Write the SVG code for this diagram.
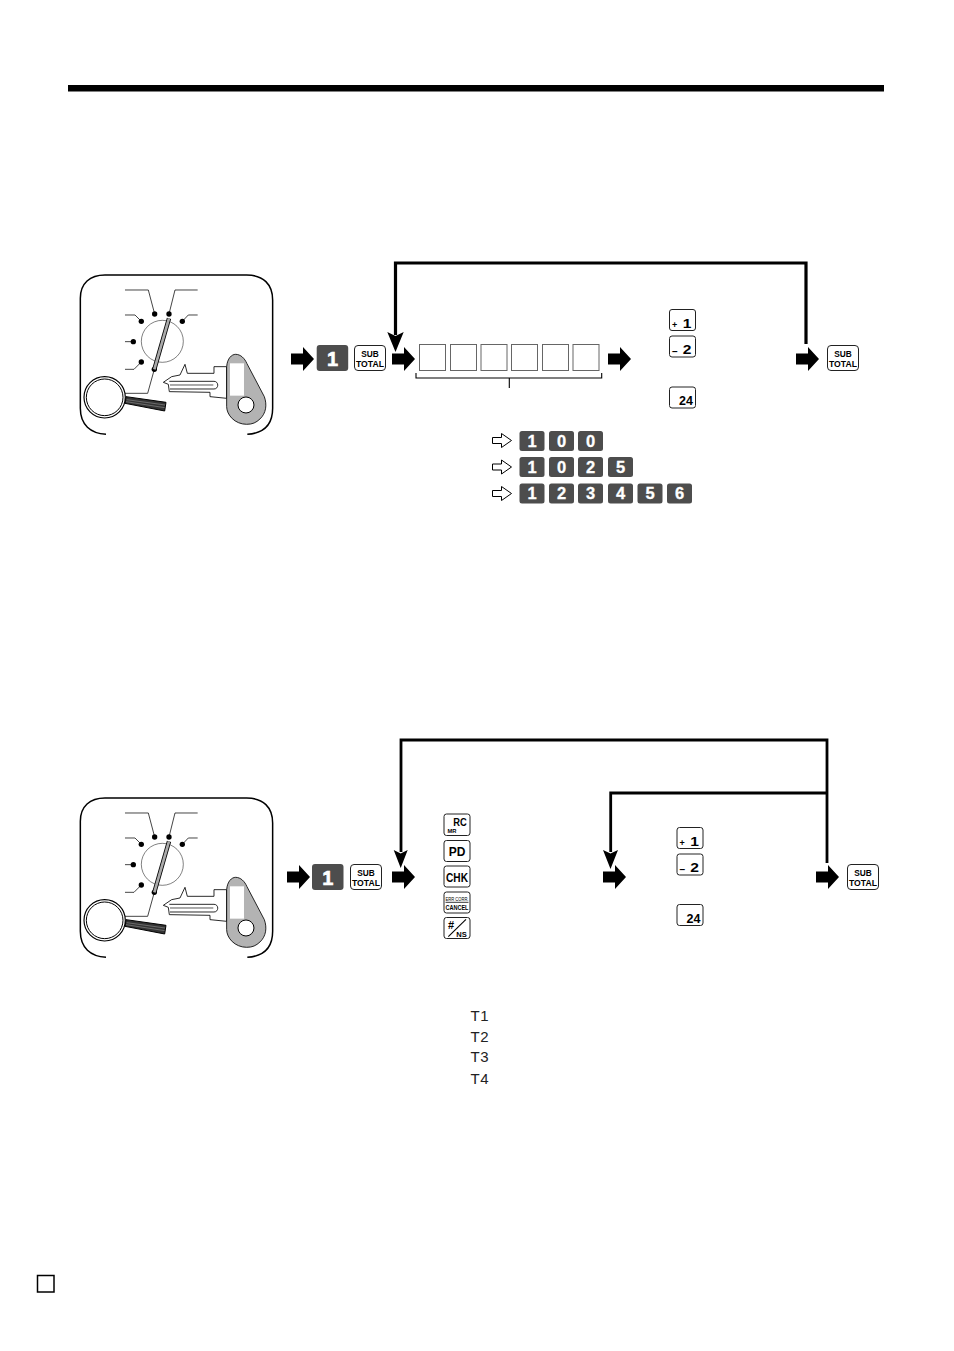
<svg xmlns="http://www.w3.org/2000/svg" width="954" height="1351" viewBox="0 0 954 1351">
<style>
text{font-family:"Liberation Sans",Arial,sans-serif}
.k{fill:#fff;stroke:#222;stroke-width:1}
.d{fill:#4d4d4d}
.dt{fill:#fff;stroke:#fff;stroke-width:.3;font-weight:700;font-size:16.5px;text-anchor:middle}
.lt{font-weight:700;text-anchor:middle;fill:#000}
.box{fill:#fff;stroke:#666;stroke-width:1}
.wire{fill:none;stroke:#000;stroke-width:3.2}
.wire2{fill:none;stroke:#000;stroke-width:2.8}
.thin{fill:none;stroke:#000;stroke-width:1.1}
.t{font-size:15px;fill:#222;letter-spacing:.5px}
</style>
<defs>
<path id="arrow" d="M0-5.500H12V-12L23 0 12 12V5.500H0Z" fill="#000"/>
<path id="hollow" d="M0-3H9V-7L19 0 9 7V3H0Z" fill="#fff" stroke="#000" stroke-width="1"/>
<g id="subtotal">
<rect class="k" x="0.500" y="0.500" width="31" height="25" rx="3.500"/>
<text class="lt" x="16" y="11.700" font-size="9.500px" textLength="17.500" lengthAdjust="spacingAndGlyphs">SUB</text>
<text class="lt" x="16" y="22" font-size="9.500px" textLength="28" lengthAdjust="spacingAndGlyphs">TOTAL</text>
</g>
<g id="k1"><rect class="k" x="0.500" y="0.500" width="26" height="21" rx="2.500"/><text x="3" y="19" font-size="9px" font-weight="700">+</text><text class="lt" x="18" y="19" font-size="13px" transform="translate(18 0) scale(1.2 1) translate(-18 0)">1</text></g>
<g id="k2"><rect class="k" x="0.500" y="0.500" width="26" height="21" rx="2.500"/><text x="3" y="19" font-size="10px" font-weight="700">–</text><text class="lt" x="18" y="19" font-size="13px" transform="translate(18 0) scale(1.2 1) translate(-18 0)">2</text></g>
<g id="k24"><rect class="k" x="0.500" y="0.500" width="26" height="21" rx="2.500"/><text class="lt" x="17" y="18.500" font-size="12.500px">24</text></g>
<g id="lock" transform="translate(70 265) scale(.3333)">
<path d="M108 508C62 505 31 480 31 430V100C31 55 60 30 105 30H530C580 30 608 58 608 105V430C608 480 580 505 532 508" fill="none" stroke="#000" stroke-width="4.500"/>
<circle cx="277" cy="229" r="63" fill="#fff" stroke="#000" stroke-width="1.500"/>
<path fill="none" stroke="#000" stroke-width="2.200" d="M165 75H235L254 147M383 75H315L297 147M165 150H195L214 169M383 150H355L337 169M165 230H190M165 313H192L214 291M253 313L233 385H165"/>
<g fill="#000"><circle cx="254" cy="147" r="8"/><circle cx="297" cy="147" r="8"/><circle cx="214" cy="169" r="8"/><circle cx="337" cy="169" r="8"/><circle cx="190" cy="230" r="8"/><circle cx="214" cy="291" r="8"/><circle cx="253" cy="313" r="8"/></g>
<path d="M297 160L253 313" stroke="#000" stroke-width="13" fill="none"/>
<path d="M297 160L253 313" stroke="#aaa" stroke-width="8" fill="none"/>
<path d="M432 325V305H470V400L420 395V382L298 380 295 358 280 352 305 335 330 330 345 298 352 325Z" fill="#fff" stroke="#000" stroke-width="2.500"/>
<path d="M470 305C472 280 485 268 497 268 512 268 524 280 531 296L583 395C592 420 588 445 570 462 558 473 548 478 530 478 495 478 470 450 470 425Z" fill="#b3b3b3" stroke="#000" stroke-width="2.500"/>
<rect x="480" y="295" width="42" height="97" fill="#fff"/>
<circle cx="528" cy="420" r="24" fill="#fff" stroke="#000" stroke-width="3"/>
<path d="M298 349H432C447 349 447 372 432 372H300" fill="none" stroke="#000" stroke-width="2.500"/>
<path d="M300 360H430" stroke="#000" stroke-width="2" fill="none"/>
<path d="M168 395L288 412 284 438 165 415Z" fill="#333" stroke="#000" stroke-width="3"/>
<path d="M170 404L285 420M168 410L284 428" stroke="#888" stroke-width="2" fill="none"/>
<circle cx="104" cy="397" r="62" fill="#fff" stroke="#000" stroke-width="3.500"/>
<circle cx="104" cy="397" r="55" fill="#fff" stroke="#000" stroke-width="3"/>
</g>
</defs>

<rect id="top-rule" x="68" y="85" width="816" height="6.500" fill="#000"/>

<g id="connectors">
<path class="wire" d="M395.500 335V263H806V344"/>
<path d="M395.500 352L387.300 332 395.500 336 403.700 332Z" fill="#000"/>
<path class="wire2" d="M401 852V740H827V863"/>
<path d="M400.700 868L393.700 850 400.700 853.500 407.700 850Z" fill="#000"/>
<path class="wire2" d="M827 793H610.700V852"/>
<path d="M610.500 869L603 850 610.500 853.500 618 850Z" fill="#000"/>
<use href="#arrow" x="291" y="359"/>
<use href="#arrow" x="392" y="359"/>
<use href="#arrow" x="608" y="359"/>
<use href="#arrow" x="796" y="359"/>
<use href="#arrow" x="287" y="877"/>
<use href="#arrow" x="392" y="877"/>
<use href="#arrow" x="603" y="877"/>
<use href="#arrow" x="816" y="877"/>
</g>

<g id="lock-a"><use href="#lock"/></g>
<g id="lock-b"><use href="#lock" y="523"/></g>

<g id="keys-a">
<rect class="d" x="316.700" y="345" width="31.500" height="26" rx="3"/>
<text class="dt" x="332.500" y="365.700" style="font-size:20px;stroke-width:.6">1</text>
<use href="#subtotal" x="354" y="345"/>
<use href="#subtotal" x="827" y="345"/>
<use href="#k1" x="669" y="309"/>
<use href="#k2" x="669" y="335.500"/>
<use href="#k24" x="669" y="386.500"/>
</g>

<g id="entry-boxes">
<rect class="box" x="419.500" y="344.500" width="26" height="26"/>
<rect class="box" x="450.500" y="344.500" width="26" height="26"/>
<rect class="box" x="481" y="344.500" width="26" height="26"/>
<rect class="box" x="511.500" y="344.500" width="26" height="26"/>
<rect class="box" x="542.500" y="344.500" width="26" height="26"/>
<rect class="box" x="573" y="344.500" width="26" height="26"/>
<path class="thin" d="M416 373V378H601.700V373M509.300 378V388"/>
</g>

<g id="examples">
<use href="#hollow" x="492.500" y="440.500"/>
<use href="#hollow" x="492.500" y="467"/>
<use href="#hollow" x="492.500" y="493.500"/>
<g id="row-100">
<rect class="d" x="519.500" y="431" width="25" height="20" rx="2.500"/><text class="dt" x="532" y="446.700">1</text>
<rect class="d" x="549" y="431" width="25" height="20" rx="2.500"/><text class="dt" x="561.500" y="446.700">0</text>
<rect class="d" x="578" y="431" width="25" height="20" rx="2.500"/><text class="dt" x="590.500" y="446.700">0</text>
</g>
<g id="row-1025">
<rect class="d" x="519.500" y="457" width="25" height="20" rx="2.500"/><text class="dt" x="532" y="472.700">1</text>
<rect class="d" x="549" y="457" width="25" height="20" rx="2.500"/><text class="dt" x="561.500" y="472.700">0</text>
<rect class="d" x="578" y="457" width="25" height="20" rx="2.500"/><text class="dt" x="590.500" y="472.700">2</text>
<rect class="d" x="608" y="457" width="25" height="20" rx="2.500"/><text class="dt" x="620.500" y="472.700">5</text>
</g>
<g id="row-123456">
<rect class="d" x="519.500" y="483.500" width="25" height="20" rx="2.500"/><text class="dt" x="532" y="499.200">1</text>
<rect class="d" x="549" y="483.500" width="25" height="20" rx="2.500"/><text class="dt" x="561.500" y="499.200">2</text>
<rect class="d" x="578" y="483.500" width="25" height="20" rx="2.500"/><text class="dt" x="590.500" y="499.200">3</text>
<rect class="d" x="608" y="483.500" width="25" height="20" rx="2.500"/><text class="dt" x="620.500" y="499.200">4</text>
<rect class="d" x="637.500" y="483.500" width="25" height="20" rx="2.500"/><text class="dt" x="650" y="499.200">5</text>
<rect class="d" x="667" y="483.500" width="25" height="20" rx="2.500"/><text class="dt" x="679.500" y="499.200">6</text>
</g>
</g>

<g id="keys-b">
<rect class="d" x="312" y="864" width="31.500" height="26" rx="3"/>
<text class="dt" x="327.700" y="884.700" style="font-size:20px;stroke-width:.6">1</text>
<use href="#subtotal" x="350" y="864"/>
<use href="#subtotal" x="847" y="864"/>
<use href="#k1" x="676.500" y="827"/>
<use href="#k2" x="676.500" y="853.500"/>
<use href="#k24" x="676.500" y="904"/>
</g>

<g id="tender-keys">
<g id="key-rc"><rect class="k" x="444" y="814" width="26" height="21.500" rx="2.500"/><text class="lt" x="460" y="825.500" font-size="11px" textLength="13.500" lengthAdjust="spacingAndGlyphs">RC</text><text class="lt" x="452" y="833" font-size="6px" textLength="9" lengthAdjust="spacingAndGlyphs">MR</text></g>
<g id="key-pd"><rect class="k" x="444" y="840.500" width="26" height="21" rx="2.500"/><text class="lt" x="457" y="856" font-size="12px">PD</text></g>
<g id="key-chk"><rect class="k" x="444" y="866" width="26" height="21" rx="2.500"/><text class="lt" x="457" y="881.500" font-size="12.500px" textLength="22" lengthAdjust="spacingAndGlyphs">CHK</text></g>
<g id="key-cancel"><rect class="k" x="444" y="892" width="26" height="21" rx="2.500"/><text x="457" y="901" text-anchor="middle" font-size="6px" textLength="23" lengthAdjust="spacingAndGlyphs">ERR CORR.</text><path d="M445.500 902.300H468.500" stroke="#000" stroke-width=".8"/><text x="457" y="910" text-anchor="middle" font-size="7px" font-weight="700" textLength="23" lengthAdjust="spacingAndGlyphs">CANCEL</text></g>
<g id="key-ns"><rect class="k" x="444" y="917.500" width="26" height="21" rx="2.500"/><text class="lt" x="451" y="928.500" font-size="11px">#</text><path d="M448.300 936.700L466 919.300" class="thin"/><text class="lt" x="461.500" y="937" font-size="7.500px" textLength="10.500" lengthAdjust="spacingAndGlyphs">NS</text></g>
</g>

<g id="codes">
<text class="t" x="470.500" y="1020.500">T1</text>
<text class="t" x="470.500" y="1041.500">T2</text>
<text class="t" x="470.500" y="1062">T3</text>
<text class="t" x="470.500" y="1083.500">T4</text>
</g>

<rect id="page-square" x="37.500" y="1275.500" width="16.500" height="16.500" fill="#fff" stroke="#000" stroke-width="1.500"/>
</svg>
